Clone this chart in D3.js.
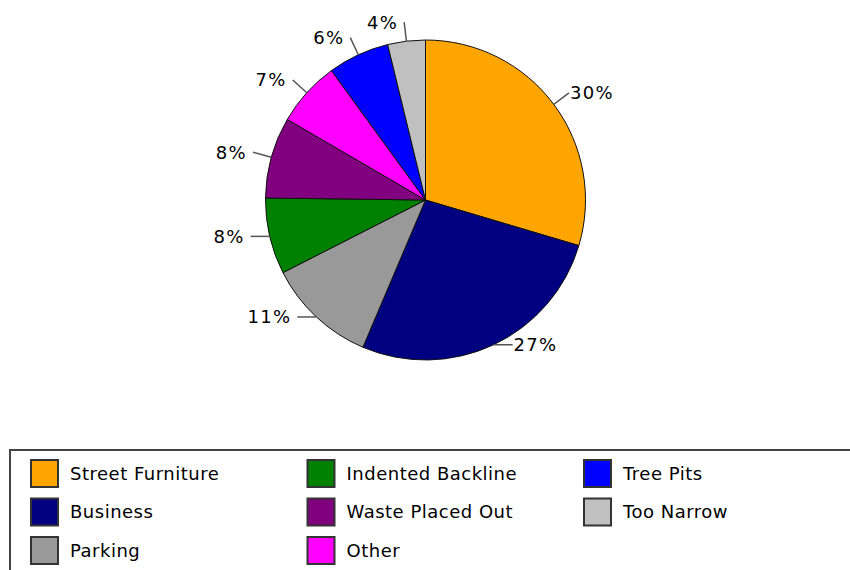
<!DOCTYPE html>
<html>
<head>
<meta charset="utf-8">
<script src="https://cdn.jsdelivr.net/npm/d3@7"></script>
<style>
  body { margin: 0; background: #fff; }
  svg { display: block; font-family: "DejaVu Sans", sans-serif; }
</style>
</head>
<body>
<svg width="850" height="570"></svg>
<script>
// slice data, clockwise from 12 o'clock
var categories = ["Street Furniture", "Business", "Parking", "Indented Backline",
                  "Waste Placed Out", "Other", "Tree Pits", "Too Narrow"];
var shares = [29.6, 26.8, 11.1, 7.7, 8.2, 6.6, 6.2, 3.8];
var sliceColors = ["#ffa500", "#000080", "#999999", "#008000",
                   "#800080", "#ff00ff", "#0000ff", "#c0c0c0"];
// legend is laid out column by column
var legendOrder = ["Street Furniture", "Business", "Parking",
                   "Indented Backline", "Waste Placed Out", "Other",
                   "Tree Pits", "Too Narrow"];

var svg = d3.select("svg"),
    cx = 425.5, cy = 200, radius = 160, leader = 19;

var data = categories.map(function(c, i) { return {name: c, value: shares[i]}; });
var total = d3.sum(shares);

var color = d3.scaleOrdinal().domain(categories).range(sliceColors);

var pie = d3.pie()
    .sort(null)
    .value(function(d) { return d.value; });

var arc = d3.arc().innerRadius(0).outerRadius(radius);

var g = svg.append("g")
    .attr("transform", "translate(" + cx + "," + cy + ")");

var arcs = pie(data);

g.selectAll("path.slice")
    .data(arcs)
  .enter().append("path")
    .attr("class", "slice")
    .attr("d", arc)
    .style("fill", function(d) { return color(d.data.name); })
    .style("stroke", "#111")
    .style("stroke-width", 1);

// leader lines: radial above the centre, flat below it
arcs.forEach(function(d) {
  var a = (d.startAngle + d.endAngle) / 2,
      sx = radius * Math.sin(a), sy = -radius * Math.cos(a),
      right = Math.sin(a) >= 0,
      ex, ey;
  if (sy < 0) {
    ex = (radius + leader) * Math.sin(a);
    ey = -(radius + leader) * Math.cos(a);
  } else {
    ex = sx + (right ? leader : -leader);
    ey = sy;
  }
  g.append("line")
      .attr("x1", sx).attr("y1", sy)
      .attr("x2", ex).attr("y2", ey)
      .style("stroke", "#555")
      .style("stroke-width", 1.5);
  g.append("text")
      .attr("x", right ? ex + 1 : ex - 6)
      .attr("y", ey)
      .attr("dy", "0.36em")
      .attr("text-anchor", right ? "start" : "end")
      .style("font-size", "18px")
      .style("letter-spacing", "1.3px")
      .style("fill", "#000")
      .text(Math.round(d.data.value / total * 100) + "%");
});

// legend
svg.append("rect")
    .attr("x", 10).attr("y", 450)
    .attr("width", 900).attr("height", 200)
    .style("fill", "none")
    .style("stroke", "#444")
    .style("stroke-width", 2);

var item = svg.selectAll("g.item")
    .data(legendOrder)
  .enter().append("g")
    .attr("class", "item")
    .attr("transform", function(d, i) {
      return "translate(" + (30 + Math.floor(i / 3) * 276.5) + "," + (459 + (i % 3) * 38.5) + ")";
    });

item.append("rect")
    .attr("x", 1).attr("y", 1)
    .attr("width", 27).attr("height", 27)
    .style("fill", function(d) { return color(d); })
    .style("stroke", "#333")
    .style("stroke-width", 2);

item.append("text")
    .attr("x", 40)
    .attr("y", 14.5)
    .attr("dy", "0.36em")
    .style("font-size", "18px")
    .style("letter-spacing", "0.5px")
    .style("fill", "#000")
    .text(function(d) { return d; });
</script>
</body>
</html>
